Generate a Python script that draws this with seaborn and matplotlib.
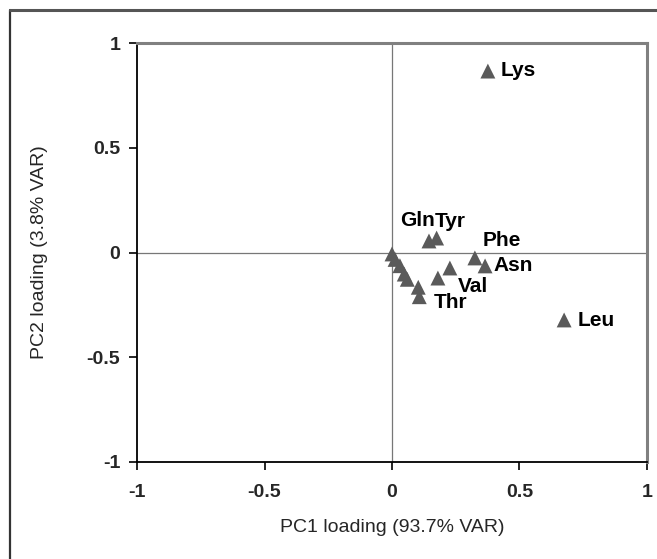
import matplotlib
matplotlib.use("Agg")
import matplotlib.pyplot as plt
import seaborn as sns
import pandas as pd
from matplotlib.lines import Line2D

# ---- data (PC loadings) ----
pc1 = [0.376, 0.675, 0.145, 0.175, 0.325, 0.365, 0.227, 0.180,
       0.107, 0.103, 0.060, 0.048, 0.031, 0.012, 0.000]
pc2 = [0.866, -0.322, 0.055, 0.069, -0.026, -0.064, -0.074, -0.122,
       -0.211, -0.166, -0.128, -0.103, -0.063, -0.033, -0.007]
names = ["Lys", "Leu", "Gln", "Tyr", "Phe", "Asn", "Val", "",
         "Thr", "", "", "", "", "", ""]
ticks = [-1, -0.5, 0, 0.5, 1]
tick_labels = ["-1", "-0.5", "0", "0.5", "1"]
xlabel = "PC1 loading (93.7% VAR)"
ylabel = "PC2 loading (3.8% VAR)"

# label placement (pixel offsets from the point, alignment)
label_style = {
    "Lys": (13, -5, "left"),
    "Leu": (14, -6, "left"),
    "Gln": (6, 15, "right"),
    "Tyr": (-2, 11, "left"),
    "Phe": (8, 12, "left"),
    "Asn": (8, -5, "left"),
    "Val": (8, -24, "left"),
    "Thr": (14, -11, "left"),
}

df = pd.DataFrame({"pc1": pc1, "pc2": pc2, "name": names})

sns.set_style("white")
plt.rcParams["font.family"] = ["Liberation Sans", "DejaVu Sans"]

fig = plt.figure(figsize=(6.57, 5.59), dpi=100)
ax = fig.add_axes([137 / 657, 1 - 462 / 559, (647 - 137) / 657, (462 - 43) / 559])

# reference lines through origin
ax.axvline(0, color="#777777", lw=0.9, zorder=1)
ax.axhline(0, color="#777777", lw=0.9, zorder=1)

sns.scatterplot(data=df, x="pc1", y="pc2", marker="^", s=115,
                color="#5a5a5a", edgecolor="none", linewidth=0, ax=ax, zorder=3)

for _, r in df.iterrows():
    if r["name"] in label_style:
        dx, dy, ha = label_style[r["name"]]
        ax.annotate(r["name"], (r["pc1"], r["pc2"]), xytext=(dx, dy),
                    textcoords="offset pixels", ha=ha, va="baseline",
                    fontsize=15, fontweight="bold", color="black")

ax.set_xlim(-1, 1)
ax.set_ylim(-1, 1)
ax.set_xticks(ticks)
ax.set_xticklabels(tick_labels)
ax.set_yticks(ticks)
ax.set_yticklabels(tick_labels)
ax.tick_params(axis="x", direction="out", length=6, width=1.2, color="black",
               labelsize=14, pad=10, bottom=True)
ax.tick_params(axis="y", direction="out", length=6, width=1.2, color="black",
               labelsize=14, pad=6, left=True)
for lab in ax.get_xticklabels() + ax.get_yticklabels():
    lab.set_fontweight("bold")

ax.set_xlabel(xlabel, fontsize=14, labelpad=13)
ax.set_ylabel(ylabel, fontsize=14, labelpad=28)

for side in ["left", "bottom"]:
    ax.spines[side].set_color("black")
    ax.spines[side].set_linewidth(1.3)
for side in ["top", "right"]:
    ax.spines[side].set_color("#808080")
    ax.spines[side].set_linewidth(2.2)

# outer frame of the figure (left and top edges)
fig.add_artist(Line2D([10 / 657, 10 / 657], [0, 1 - 10 / 559],
                      transform=fig.transFigure, color="#333333", lw=1.6))
fig.add_artist(Line2D([10 / 657, 1], [1 - 10 / 559, 1 - 10 / 559],
                      transform=fig.transFigure, color="#555555", lw=2.2))

fig.savefig("out.png", dpi=100)
